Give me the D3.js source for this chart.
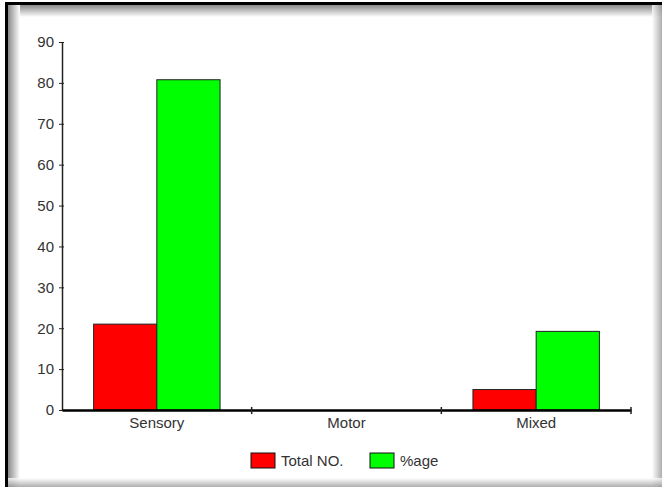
<!DOCTYPE html>
<html>
<head>
<meta charset="utf-8">
<script src="https://cdn.jsdelivr.net/npm/d3@7"></script>
<style>
body { margin: 0; background: #fff; }
text { font-family: "Liberation Sans", Arial, sans-serif; fill: #333; }
</style>
</head>
<body>
<script>
// chart size
var w = 662, h = 487;
var categories = ["Sensory", "Motor", "Mixed"];
var seriesNames = ["Total NO.", "%age"];
var totalNo = [21, 0, 5];
var pctAge = [80.77, 0, 19.23];
var seriesColors = ["#ff0000", "#00ff00"];
var yTicks = [0, 10, 20, 30, 40, 50, 60, 70, 80, 90];

var svg = d3.select("body").append("svg")
    .attr("width", w)
    .attr("height", h);

// frame shading
var defs = svg.append("defs");
function grad(id, x1, y1, x2, y2, c1, c2) {
    var g = defs.append("linearGradient").attr("id", id)
        .attr("x1", x1).attr("y1", y1).attr("x2", x2).attr("y2", y2);
    g.append("stop").attr("offset", "0%").attr("stop-color", c1);
    g.append("stop").attr("offset", "100%").attr("stop-color", c2);
}
grad("gTop", 0, 0, 0, 1, "#8a8a8a", "#ffffff");
grad("gLeft", 0, 0, 1, 0, "#8a8a8a", "#ffffff");
grad("gRight", 0, 0, 1, 0, "#ffffff", "#9a9a9a");
grad("gBottom", 0, 0, 0, 1, "#ffffff", "#9a9a9a");

svg.append("rect").attr("x", 5).attr("y", 2).attr("width", 657).attr("height", 485).attr("fill", "#fff");
svg.append("rect").attr("x", 8).attr("y", 5).attr("width", 654).attr("height", 12).attr("fill", "url(#gTop)");
svg.append("rect").attr("x", 8).attr("y", 5).attr("width", 12).attr("height", 482).attr("fill", "url(#gLeft)");
svg.append("rect").attr("x", 652).attr("y", 5).attr("width", 10).attr("height", 482).attr("fill", "url(#gRight)").attr("opacity", 0.8);
svg.append("rect").attr("x", 8).attr("y", 478).attr("width", 654).attr("height", 9).attr("fill", "url(#gBottom)").attr("opacity", 0.8);
svg.append("rect").attr("x", 5).attr("y", 2).attr("width", 657).attr("height", 3).attr("fill", "#000");
svg.append("rect").attr("x", 5).attr("y", 2).attr("width", 3).attr("height", 485).attr("fill", "#000");

// scales
var x = d3.scaleBand().domain(categories).range([62, 631]);
var xs = d3.scaleBand().domain(seriesNames).range([0, x.bandwidth()]).paddingOuter(0.5);
var y = d3.scaleLinear().domain([0, 90]).range([410, 42]);

var table = categories.map(function(c, i) {
    return { cat: c, vals: [totalNo[i], pctAge[i]] };
});

// bars
var groups = svg.selectAll(".grp")
    .data(table)
    .enter().append("g")
    .attr("class", "grp")
    .attr("transform", function(d) { return "translate(" + x(d.cat) + ",0)"; });

groups.selectAll("rect")
    .data(function(d) { return d.vals.map(function(v, j) { return { s: seriesNames[j], v: v, j: j }; }); })
    .enter().append("rect")
    .filter(function(d) { return d.v > 0; })
    .attr("x", function(d) { return xs(d.s); })
    .attr("y", function(d) { return y(d.v); })
    .attr("width", xs.bandwidth())
    .attr("height", function(d) { return y(0) - y(d.v); })
    .attr("fill", function(d) { return seriesColors[d.j]; })
    .attr("stroke", "#222")
    .attr("stroke-width", 1);

// y axis
var yAxis = svg.append("g")
    .attr("transform", "translate(62,0)")
    .call(d3.axisLeft(y).tickValues(yTicks).tickSizeInner(4).tickSizeOuter(0).tickPadding(4));
yAxis.select(".domain").attr("stroke", "#222").attr("stroke-width", 1.5);
yAxis.selectAll(".tick line").attr("stroke", "#222").attr("x2", 2).attr("x1", -3);
yAxis.selectAll("text").style("font-size", "15px").attr("fill", "#333");

// x axis
var xAxis = svg.append("g")
    .attr("transform", "translate(0,410)")
    .call(d3.axisBottom(x).tickSize(0).tickPadding(7));
xAxis.select(".domain").attr("stroke", "#000").attr("stroke-width", 2.5);
xAxis.selectAll("text").style("font-size", "15px").attr("fill", "#333");

// category boundary ticks
var bounds = categories.map(function(c) { return x(c); }).concat([x.range()[1]]);
svg.selectAll(".bnd")
    .data(bounds.slice(1))
    .enter().append("line")
    .attr("class", "bnd")
    .attr("x1", function(d) { return d; }).attr("x2", function(d) { return d; })
    .attr("y1", 407).attr("y2", 414)
    .attr("stroke", "#222").attr("stroke-width", 1.5);

// legend
var legendX = [251, 370];
var legend = svg.selectAll(".leg")
    .data(seriesNames)
    .enter().append("g")
    .attr("class", "leg")
    .attr("transform", function(d, i) { return "translate(" + legendX[i] + ",453)"; });
legend.append("rect")
    .attr("width", 24).attr("height", 15)
    .attr("fill", function(d, i) { return seriesColors[i]; })
    .attr("stroke", "#111");
legend.append("text")
    .attr("x", 30).attr("y", 13)
    .style("font-size", "15px")
    .text(function(d) { return d; });
</script>
</body>
</html>
